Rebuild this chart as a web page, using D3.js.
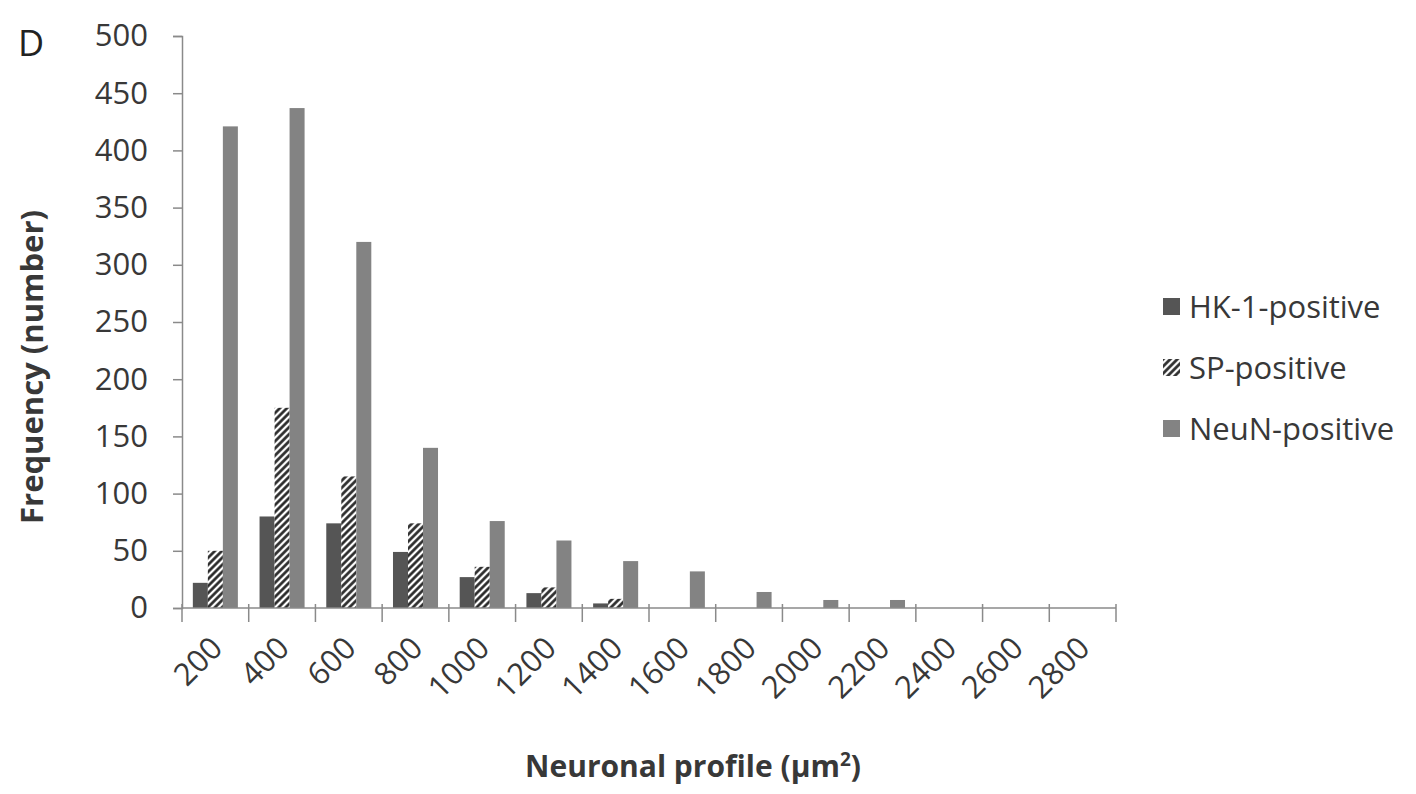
<!DOCTYPE html>
<html><head><meta charset="utf-8">
<script src="https://cdn.jsdelivr.net/npm/d3@7"></script>
<style>body{margin:0;background:#fff;} svg{display:block;}</style>
</head><body>
<svg id="c" width="1416" height="794"></svg>
<script>
const categories = ["200","400","600","800","1000","1200","1400","1600","1800","2000","2200","2400","2600","2800"];
const hk1 = [22, 80, 74, 49, 27, 13, 4, 0, 0, 0, 0, 0, 0, 0];
const sp = [50, 175, 115, 74, 36, 18, 8, 0, 0, 0, 0, 0, 0, 0];
const neun = [421, 437, 320, 140, 76, 59, 41, 32, 14, 7, 7, 0, 0, 0];
const yTicks = [0, 50, 100, 150, 200, 250, 300, 350, 400, 450, 500];
const seriesNames = ["HK-1-positive", "SP-positive", "NeuN-positive"];

(function(){
const svg = d3.select("#c");
const font = "'Open Sans', sans-serif";
const tc = "#383838";
const defs = svg.append("defs");
const pat = defs.append("pattern").attr("id","hatch").attr("patternUnits","userSpaceOnUse")
  .attr("width",5).attr("height",5).attr("patternTransform","rotate(45)");
pat.append("rect").attr("width",5).attr("height",5).attr("fill","#fff");
pat.append("line").attr("x1",1.5).attr("y1",0).attr("x2",1.5).attr("y2",5).attr("stroke","#222").attr("stroke-width",2.6);

const pl = 182, pr = 1116, pt = 36, pb = 608;
const x = d3.scaleBand().domain(categories).range([pl, pr]);
const y = d3.scaleLinear().domain([0, 500]).range([pb, pt]);
const fills = ["#555555", "url(#hatch)", "#838383"];
const series = [hk1, sp, neun];
const bw = x.bandwidth() * 0.225;
const off = (x.bandwidth() - 3 * bw) / 2;

series.forEach((vals, si) => {
  svg.append("g").selectAll("rect").data(categories).join("rect")
    .attr("x", (d) => x(d) + off + si * bw)
    .attr("y", (d, i) => y(vals[i]))
    .attr("width", bw)
    .attr("height", (d, i) => pb - y(vals[i]))
    .attr("fill", fills[si]);
});

// Y axis
const ya = svg.append("g").attr("transform", `translate(${pl},0)`)
  .call(d3.axisLeft(y).tickValues(yTicks).tickSize(9).tickPadding(25));
ya.select(".domain").attr("stroke", "#8a8a8a").attr("stroke-width", 1.5);
ya.selectAll(".tick line").attr("stroke", "#8a8a8a").attr("stroke-width", 1.5);
ya.selectAll("text").attr("font-family", font).attr("font-size", 31).attr("fill", tc);

// X axis
const xa = svg.append("g").attr("transform", `translate(0,${pb})`);
xa.append("line").attr("x1", pl).attr("x2", pr).attr("y1", 0).attr("y2", 0)
  .attr("stroke", "#8a8a8a").attr("stroke-width", 1.5);
const bounds = categories.map(c => x(c)).concat([pr]);
xa.selectAll("line.tk").data(bounds).join("line").attr("class","tk")
  .attr("x1", d => d).attr("x2", d => d).attr("y1", -4).attr("y2", 14)
  .attr("stroke", "#8a8a8a").attr("stroke-width", 1.5);
xa.selectAll("text").data(categories).join("text")
  .attr("transform", d => `translate(${x(d) + x.bandwidth()/2 + 9},${42}) rotate(-45)`)
  .attr("text-anchor", "end")
  .attr("font-family", font).attr("font-size", 31).attr("fill", tc)
  .text(d => d);

// Axis titles
svg.append("text").attr("x", 693).attr("y", 777).attr("text-anchor", "middle")
  .attr("font-family", font).attr("font-weight", "bold").attr("font-size", 30).attr("fill", tc)
  .html("Neuronal profile (µm<tspan dy='-11' font-size='19'>2</tspan><tspan dy='11'>)</tspan>");
svg.append("text").attr("transform", "translate(43,367) rotate(-90)").attr("text-anchor", "middle")
  .attr("font-family", font).attr("font-weight", "bold").attr("font-size", 31).attr("fill", tc)
  .text("Frequency (number)");
svg.append("text").attr("x", 18).attr("y", 56).attr("font-family", font).attr("font-size", 36).attr("fill", "#222").text("D");

// Legend
const lg = svg.append("g");
seriesNames.forEach((n, i) => {
  const yy = 307 + i * 61;
  lg.append("rect").attr("x", 1163).attr("y", yy - 9).attr("width", 17).attr("height", 17).attr("fill", fills[i]);
  lg.append("text").attr("x", 1189).attr("y", yy + 11).attr("font-family", font).attr("font-size", 31)
    .attr("fill", tc).text(n);
});
})();
</script>
</body></html>
